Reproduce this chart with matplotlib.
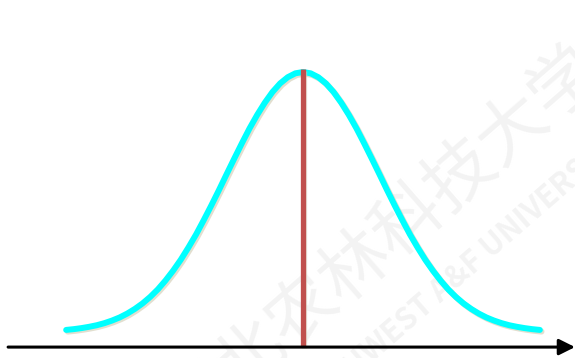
import matplotlib.pyplot as plt
import matplotlib.patheffects as pe

# bell curve: distance from the centre (in units of the spread)
# and height relative to the peak; the curve is symmetric so the right half mirrors it
half_x = [0.0, 0.1, 0.2, 0.3, 0.4, 0.5, 0.6, 0.7, 0.8, 0.9, 1.0, 1.1, 1.2, 1.3, 1.4, 1.5,
          1.6, 1.7, 1.8, 1.9, 2.0, 2.1, 2.2, 2.3, 2.4, 2.5, 2.6, 2.7, 2.8, 2.9, 3.0, 3.1]
half_y = [1.000, 0.995, 0.980, 0.956, 0.923, 0.882, 0.835, 0.783, 0.726, 0.667, 0.607,
          0.546, 0.487, 0.430, 0.375, 0.325, 0.278, 0.236, 0.198, 0.164, 0.135, 0.110,
          0.089, 0.071, 0.056, 0.044, 0.034, 0.026, 0.020, 0.015, 0.011, 0.008]
mean_x = 0.0
mean_top = 1.01
axis_y = -0.058
axis_start, axis_end = -3.86, 3.56

curve_x = [-v for v in half_x[:0:-1]] + half_x
curve_y = half_y[:0:-1] + half_y

fig = plt.figure(figsize=(5.75, 3.58), dpi=100)
ax = fig.add_axes([0, 0, 1, 1])
ax.set_xlim(-3.966, 3.560)
ax.set_ylim(-0.1, 1.277)
ax.axis('off')

# faint watermark in the background (axes fills the figure, so axes fractions = figure fractions)
wm_font = ['Noto Sans CJK SC', 'DejaVu Sans']
ax.text(383 / 575, 1 - 242 / 358, '西北农林科技大学', family=wm_font, fontsize=50,
        color='#f3f3f3', rotation=41, ha='center', va='center',
        rotation_mode='anchor', transform=ax.transAxes, clip_on=False, zorder=0)
ax.text(452 / 575, 1 - 281 / 358, 'NORTHWEST A&F UNIVERSITY', family=wm_font,
        fontsize=22, fontweight='bold', color='#f3f3f3', rotation=41,
        ha='center', va='center', rotation_mode='anchor', transform=ax.transAxes,
        clip_on=False, zorder=0)

# the normal curve, with a soft shadow like the slide drawing
shadow = [pe.SimpleLineShadow(offset=(1.2, -1.2), shadow_color='#cfcab0', alpha=0.6), pe.Normal()]
ax.plot(curve_x, curve_y, color='#00ffff', lw=4.3, solid_capstyle='round',
        solid_joinstyle='round', path_effects=shadow, zorder=3)

# line at the mean
ax.plot([mean_x, mean_x], [axis_y, mean_top], color='#c0504d', lw=3.8,
        solid_capstyle='butt', zorder=4,
        path_effects=[pe.SimpleLineShadow(offset=(1, -1), shadow_color='#d9d4c0', alpha=0.6), pe.Normal()])

# horizontal axis with arrow
ax.annotate('', xy=(axis_end, axis_y), xytext=(axis_start, axis_y),
            arrowprops=dict(arrowstyle='-|>', color='black', lw=2.2,
                            mutation_scale=24, shrinkA=0, shrinkB=0), zorder=5)

fig.savefig('out.png', dpi=100)
